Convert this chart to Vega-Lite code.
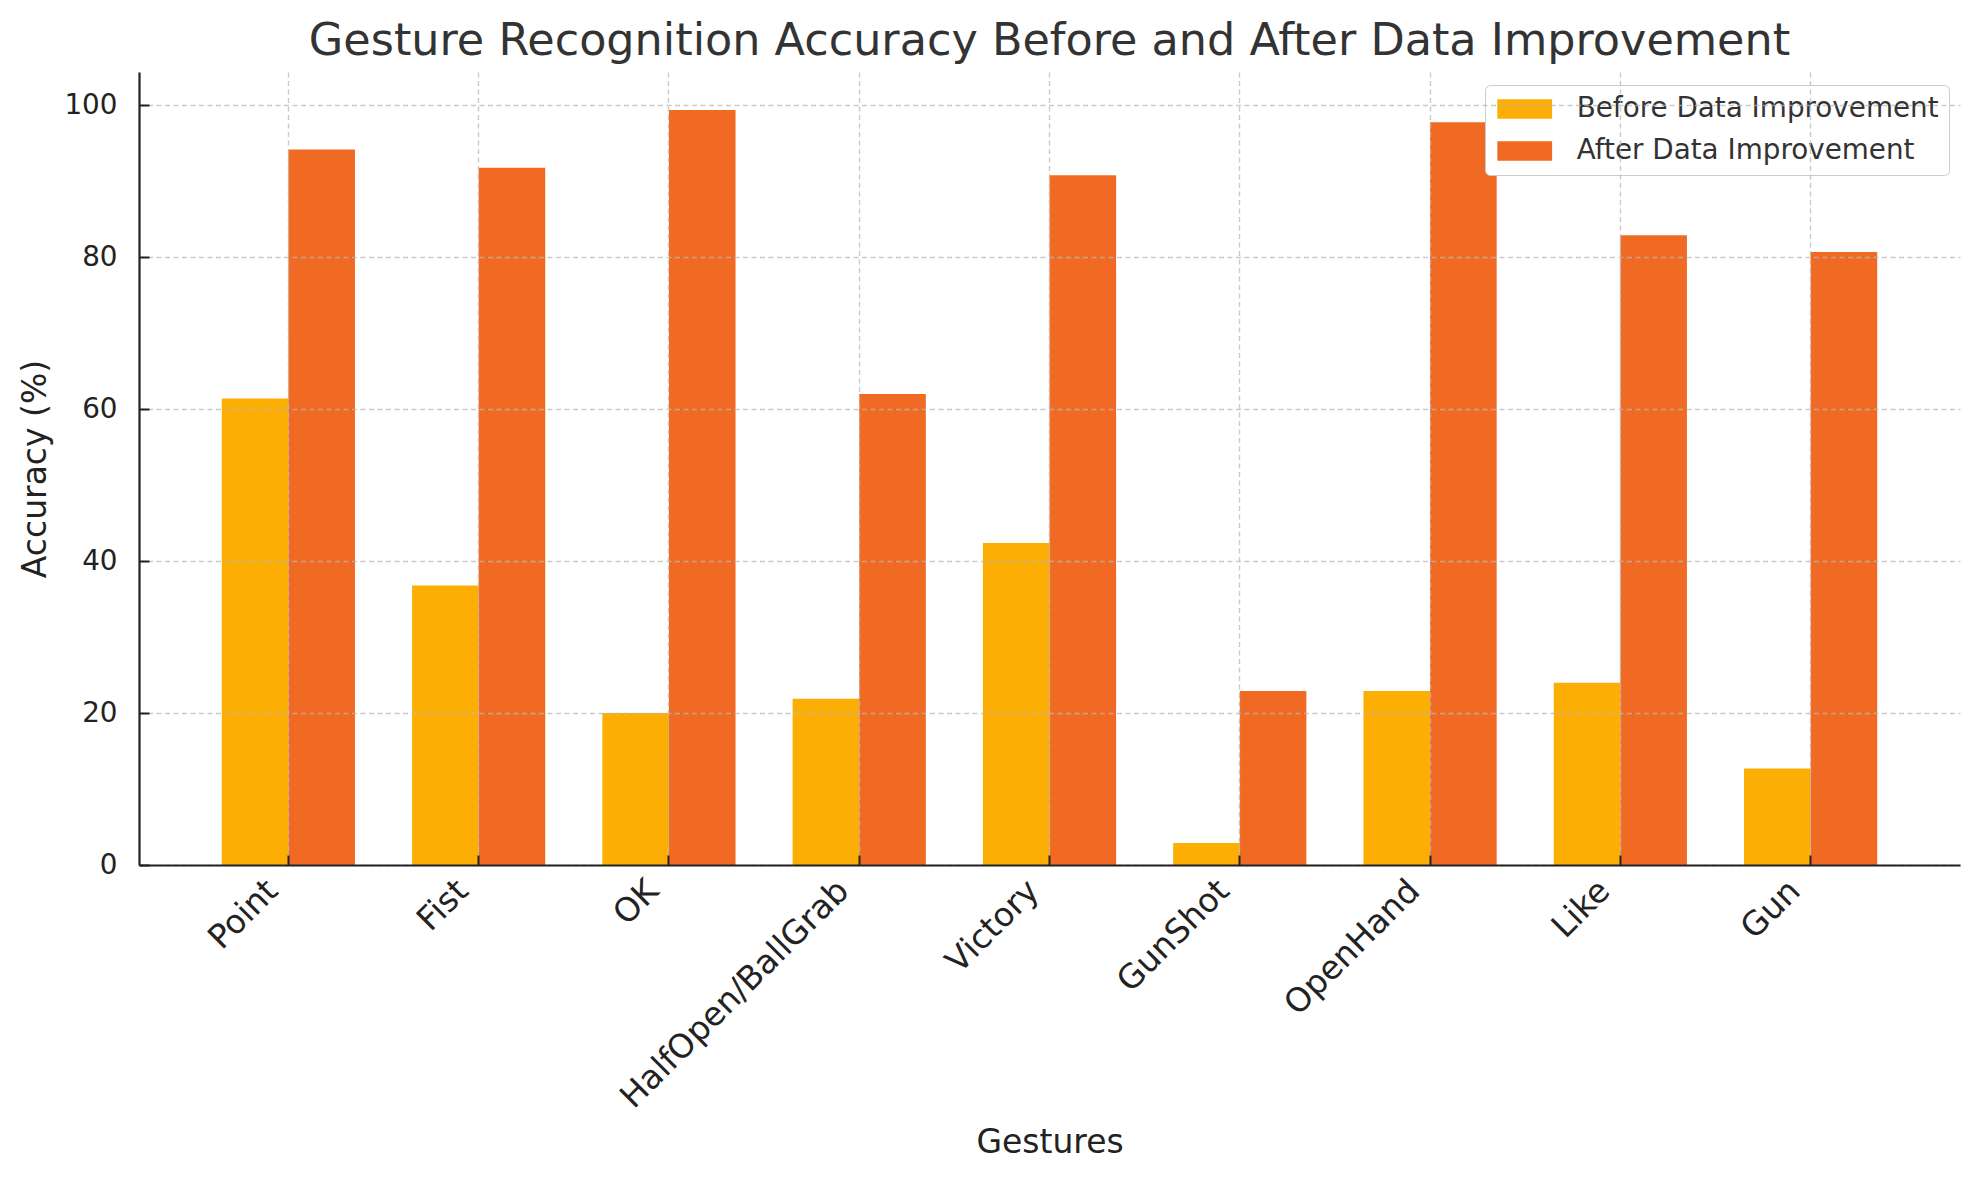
{
  "$schema": "https://vega.github.io/schema/vega-lite/v6.json",
  "autosize": {"type": "none"},
  "padding": {"left": 139, "top": 72, "right": 19, "bottom": 315},
  "width": 1821,
  "height": 793,
  "background": "white",
  "title": {
    "text": "Gesture Recognition Accuracy Before and After Data Improvement",
    "font": "DejaVu Sans",
    "fontSize": 44.5,
    "fontWeight": "normal",
    "color": "#333333",
    "anchor": "middle",
    "frame": "group",
    "baseline": "alphabetic",
    "offset": -27
  },
  "data": {
    "values": [
      {"gesture": "Point", "phase": "Before Data Improvement", "accuracy": 61.4},
      {"gesture": "Point", "phase": "After Data Improvement", "accuracy": 94.2},
      {"gesture": "Fist", "phase": "Before Data Improvement", "accuracy": 36.8},
      {"gesture": "Fist", "phase": "After Data Improvement", "accuracy": 91.8},
      {"gesture": "OK", "phase": "Before Data Improvement", "accuracy": 20.0},
      {"gesture": "OK", "phase": "After Data Improvement", "accuracy": 99.4},
      {"gesture": "HalfOpen/BallGrab", "phase": "Before Data Improvement", "accuracy": 21.9},
      {"gesture": "HalfOpen/BallGrab", "phase": "After Data Improvement", "accuracy": 62.0},
      {"gesture": "Victory", "phase": "Before Data Improvement", "accuracy": 42.4},
      {"gesture": "Victory", "phase": "After Data Improvement", "accuracy": 90.8},
      {"gesture": "GunShot", "phase": "Before Data Improvement", "accuracy": 2.9},
      {"gesture": "GunShot", "phase": "After Data Improvement", "accuracy": 22.9},
      {"gesture": "OpenHand", "phase": "Before Data Improvement", "accuracy": 22.9},
      {"gesture": "OpenHand", "phase": "After Data Improvement", "accuracy": 97.8},
      {"gesture": "Like", "phase": "Before Data Improvement", "accuracy": 24.0},
      {"gesture": "Like", "phase": "After Data Improvement", "accuracy": 82.9},
      {"gesture": "Gun", "phase": "Before Data Improvement", "accuracy": 12.7},
      {"gesture": "Gun", "phase": "After Data Improvement", "accuracy": 80.7}
    ]
  },
  "mark": {"type": "bar"},
  "encoding": {
    "x": {
      "field": "gesture",
      "type": "nominal",
      "sort": null,
      "scale": {"paddingInner": 0.3, "paddingOuter": 0.435},
      "axis": {
        "title": "Gestures",
        "labelAngle": -45,
        "labelAlign": "right",
        "labelBaseline": "top",
        "labelFontSize": 33,
        "labelLimit": 1000,
        "labelOffset": -27,
        "labelPadding": 19,
        "tickSize": -10,
        "titlePadding": 61,
        "zindex": 1
      }
    },
    "xOffset": {
      "field": "phase",
      "type": "nominal",
      "sort": ["Before Data Improvement", "After Data Improvement"],
      "scale": {"paddingInner": 0, "paddingOuter": 0}
    },
    "y": {
      "field": "accuracy",
      "type": "quantitative",
      "scale": {"domain": [0, 104.4], "nice": false, "zero": true},
      "axis": {
        "title": "Accuracy (%)",
        "values": [0, 20, 40, 60, 80, 100],
        "tickSize": -10,
        "labelPadding": 32,
        "titlePadding": 11,
        "zindex": 1
      }
    },
    "color": {
      "field": "phase",
      "type": "nominal",
      "sort": ["Before Data Improvement", "After Data Improvement"],
      "scale": {
        "domain": ["Before Data Improvement", "After Data Improvement"],
        "range": ["#FCAE04", "#F06A23"]
      },
      "legend": {
        "title": null,
        "orient": "none",
        "legendX": 1346,
        "legendY": 13,
        "symbolType": "M-2,-0.72H2V0.72H-2Z",
        "symbolSize": 750,
        "symbolOffset": 15.7,
        "symbolStrokeWidth": 0,
        "symbolOpacity": 1,
        "labelFont": "DejaVu Sans",
        "labelFontSize": 27.8,
        "labelColor": "#333333",
        "labelOffset": 38,
        "rowPadding": 14,
        "padding": 10,
        "strokeColor": "#cccccc",
        "fillColor": "white",
        "cornerRadius": 5,
        "labelLimit": 600
      }
    }
  },
  "config": {
    "view": {"stroke": null},
    "font": "DejaVu Sans",
    "axis": {
      "labelFont": "DejaVu Sans",
      "labelFontSize": 27.8,
      "labelColor": "#222222",
      "titleFont": "DejaVu Sans",
      "titleFontSize": 33,
      "titleFontWeight": "normal",
      "titleColor": "#222222",
      "domainColor": "#222222",
      "domainWidth": 2.2,
      "tickColor": "#222222",
      "tickWidth": 2,
      "grid": true,
      "gridColor": "#b8b8b8",
      "gridOpacity": 0.75,
      "gridWidth": 1.4,
      "gridDash": [5, 3.5]
    }
  }
}
